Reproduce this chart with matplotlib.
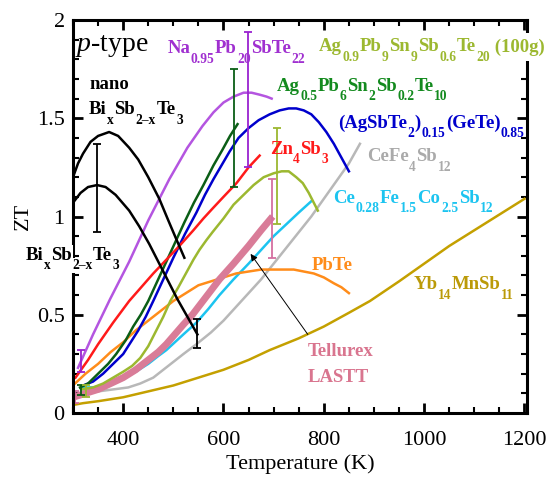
import re

import matplotlib
matplotlib.use("Agg")
import matplotlib.pyplot as plt
from matplotlib import transforms as mtrans
from matplotlib.ticker import MultipleLocator, FuncFormatter

plt.rcParams["font.family"] = ["Liberation Serif", "DejaVu Serif"]
plt.rcParams["mathtext.fontset"] = "custom"
plt.rcParams["mathtext.rm"] = "Liberation Serif"
plt.rcParams["mathtext.it"] = "Liberation Serif:italic"
plt.rcParams["mathtext.bf"] = "Liberation Serif:bold"

# ZT vs temperature curves
nano_T = [300, 310, 320, 335, 350, 372, 390, 412, 430, 450, 472, 490, 505, 522]
nano_ZT = [1.20, 1.27, 1.32, 1.38, 1.41, 1.43, 1.41, 1.35, 1.29, 1.20, 1.09,
           0.98, 0.89, 0.79]

bist_T = [300, 315, 330, 348, 365, 385, 412, 432, 452, 470, 490, 508, 528, 548]
bist_ZT = [1.07, 1.12, 1.15, 1.16, 1.15, 1.11, 1.03, 0.95, 0.86, 0.77, 0.67,
           0.58, 0.49, 0.40]

na_T = [310, 340, 374, 412, 450, 492, 528, 558, 580, 600, 620, 640, 656, 672,
        686, 696]
na_ZT = [0.23, 0.40, 0.58, 0.77, 0.98, 1.19, 1.35, 1.46, 1.53, 1.58, 1.61,
         1.63, 1.63, 1.62, 1.61, 1.60]

agpb_T = [314, 330, 350, 370, 386, 405, 420, 435, 450, 468, 486, 504, 522, 541,
          560, 580, 598, 613, 628]
agpb_ZT = [0.13, 0.15, 0.20, 0.25, 0.30, 0.37, 0.44, 0.50, 0.57, 0.67, 0.77,
           0.87, 0.97, 1.07, 1.16, 1.26, 1.34, 1.41, 1.47]

ge_T = [320, 340, 360, 380, 400, 415, 430, 445, 460, 480, 500, 523, 546, 563,
        580, 596, 612, 630, 650, 670, 692, 712, 730, 745, 760, 775, 790, 805,
        820, 835, 850]
ge_ZT = [0.14, 0.16, 0.20, 0.25, 0.30, 0.36, 0.42, 0.49, 0.57, 0.68, 0.79,
         0.91, 1.02, 1.11, 1.19, 1.26, 1.33, 1.40, 1.45, 1.49, 1.52, 1.54,
         1.55, 1.55, 1.54, 1.52, 1.48, 1.43, 1.37, 1.30, 1.23]

zn_T = [305, 330, 350, 380, 412, 436, 460, 486, 512, 540, 560, 578, 600, 626,
        650, 672]
zn_ZT = [0.18, 0.27, 0.35, 0.46, 0.57, 0.64, 0.71, 0.78, 0.85, 0.93, 0.99,
         1.04, 1.10, 1.17, 1.25, 1.31]

lag_T = [316, 340, 360, 380, 400, 418, 434, 450, 464, 480, 494, 510, 525, 540,
         552, 566, 578, 600, 620, 640, 660, 680, 700, 716, 730, 745, 758, 770,
         780, 788]
lag_ZT = [0.12, 0.13, 0.15, 0.18, 0.21, 0.24, 0.28, 0.34, 0.41, 0.49, 0.57,
          0.64, 0.71, 0.78, 0.83, 0.88, 0.92, 0.99, 1.06, 1.11, 1.16, 1.20,
          1.22, 1.23, 1.23, 1.20, 1.17, 1.12, 1.07, 1.03]

cefe4_T = [318, 350, 380, 410, 434, 460, 480, 500, 520, 546, 575, 600, 625,
           650, 675, 700, 725, 750, 775, 800, 825, 850, 872]
cefe4_ZT = [0.11, 0.11, 0.12, 0.13, 0.15, 0.18, 0.22, 0.26, 0.30, 0.35, 0.41,
            0.47, 0.54, 0.61, 0.68, 0.76, 0.84, 0.92, 1.00, 1.09, 1.18, 1.27,
            1.37]

cefeco_T = [318, 340, 360, 380, 400, 425, 450, 470, 486, 503, 520, 546, 570,
            592, 620, 650, 675, 700, 725, 750, 776]
cefeco_ZT = [0.13, 0.13, 0.14, 0.16, 0.18, 0.21, 0.25, 0.29, 0.32, 0.36, 0.40,
             0.46, 0.53, 0.60, 0.68, 0.76, 0.83, 0.90, 0.96, 1.02, 1.08]

tel_T = [300, 325, 350, 375, 400, 425, 450, 470, 486, 503, 520, 538, 556, 574,
         592, 620, 650, 675, 698]
tel_ZT = [0.08, 0.10, 0.12, 0.15, 0.18, 0.22, 0.27, 0.31, 0.35, 0.40, 0.45,
          0.50, 0.56, 0.62, 0.68, 0.76, 0.85, 0.93, 1.00]

pbte_T = [304, 325, 350, 375, 400, 425, 450, 475, 500, 525, 550, 575, 600,
          625, 650, 675, 700, 720, 740, 760, 780, 800, 820, 835, 850]
pbte_ZT = [0.15, 0.20, 0.25, 0.31, 0.36, 0.42, 0.47, 0.52, 0.57, 0.61, 0.65,
           0.67, 0.69, 0.71, 0.72, 0.73, 0.73, 0.73, 0.73, 0.72, 0.71, 0.69,
           0.66, 0.64, 0.61]

yb_T = [298, 320, 350, 400, 450, 500, 550, 600, 650, 692, 750, 800, 850, 892,
        950, 1000, 1050, 1100, 1150, 1200]
yb_ZT = [0.04, 0.05, 0.06, 0.08, 0.11, 0.14, 0.18, 0.22, 0.27, 0.32, 0.38,
         0.44, 0.51, 0.57, 0.67, 0.76, 0.85, 0.93, 1.01, 1.09]

# error bars: temperature, low, high
eb_T = [348, 548, 648, 316, 620, 316, 706, 326, 696, 303]
eb_lo = [0.92, 0.33, 1.25, 0.21, 1.15, 0.09, 0.96, 0.08, 0.79, 0.05]
eb_hi = [1.37, 0.48, 1.94, 0.32, 1.75, 0.14, 1.45, 0.14, 1.19, 0.11]
eb_colors = ["black", "black", "#9a22d0", "#9a22d0", "#0b5e16", "#0b5e16",
             "#9cb830", "#9cb830", "#d46fa0", "#d46fa0"]

# curve labels: anchor (T, ZT) at start of baseline, text, colour
label_T = [488, 790, 332, 332, 706, 828, 692, 886, 818, 776, 978, 768, 768,
           206]
label_ZT = [1.83, 1.84, 1.65, 1.52, 1.64, 1.45, 1.32, 1.28, 1.07, 0.73, 0.63,
            0.29, 0.16, 0.78]
label_text = [
    "Na_{0.95}Pb_{20}SbTe_{22}",
    "Ag_{0.9}Pb_{9}Sn_{9}Sb_{0.6}Te_{20} (100g)",
    "nano",
    "Bi_{x}Sb_{2\u2013x}Te_{3}",
    "Ag_{0.5}Pb_{6}Sn_{2}Sb_{0.2}Te_{10}",
    "(AgSbTe_{2})_{0.15}(GeTe)_{0.85}",
    "Zn_{4}Sb_{3}",
    "CeFe_{4}Sb_{12}",
    "Ce_{0.28}Fe_{1.5}Co_{2.5}Sb_{12}",
    "PbTe",
    "Yb_{14}MnSb_{11}",
    "Tellurex",
    "LASTT",
    "Bi_{x}Sb_{2\u2013x}Te_{3}",
]
label_colors = ["#a030d0", "#9cb830", "black", "black", "#138a1e", "#0000cc",
                "#ff1a1a", "#aaaaaa", "#1cc4f0", "#ff8c1a", "#bb9a08",
                "#d9758f", "#d9758f", "black"]

LABEL_SIZE = 13.5
SUB_SCALE = 0.72


def draw_formula(ax, x, y, formula, color, size, knockout=False):
    """Write a chemical formula piece by piece with deep subscripts.

    knockout=True puts a white box behind the pieces so the axes frame
    does not show through the text.
    """
    fig = ax.figure
    renderer = fig.canvas.get_renderer()
    em = size * fig.dpi / 72
    dx = 0.0
    for m in re.finditer(r"_\{([^}]*)\}|([^_]+)", formula):
        if m.group(1) is not None:
            s, fs, dy = m.group(1), size * SUB_SCALE, -0.5 * em
        else:
            s, fs, dy = m.group(2), size, 0.0
        tr = mtrans.offset_copy(ax.transData, fig=fig, x=dx, y=dy,
                                units="dots")
        t = ax.text(x, y, s, transform=tr, color=color, fontsize=fs,
                    fontweight="bold", ha="left", va="baseline", zorder=5,
                    clip_on=False)
        if "(100g)" in s:
            t.set_bbox(dict(facecolor="white", edgecolor="none", pad=4))
            t.set_zorder(4.9)
        elif knockout:
            t.set_bbox(dict(facecolor="white", edgecolor="none", pad=1))
            t.set_zorder(4.9)
        dx += t.get_window_extent(renderer).width + 0.5


fig = plt.figure(figsize=(5.51, 4.79), dpi=100)
ax = fig.add_axes([73 / 551, 66 / 479, 454 / 551, 393 / 479])

lw = 1.8
ax.plot(yb_T, yb_ZT, color="#c4a000", lw=lw, zorder=2)
ax.plot(cefe4_T, cefe4_ZT, color="#b8b8b8", lw=lw, zorder=2)
ax.plot(cefeco_T, cefeco_ZT, color="#1cc4f0", lw=lw, zorder=2)
ax.plot(pbte_T, pbte_ZT, color="#ff8c1a", lw=lw, zorder=2)
ax.plot(tel_T, tel_ZT, color="#d97c98", lw=5.0, zorder=2.1,
        solid_capstyle="butt")
ax.plot(lag_T, lag_ZT, color="#9cb830", lw=lw, zorder=2.2)
ax.plot(ge_T, ge_ZT, color="#0000cc", lw=lw, zorder=2.2)
ax.plot(agpb_T, agpb_ZT, color="#0b5e16", lw=lw, zorder=2.2)
ax.plot(zn_T, zn_ZT, color="#ff1a1a", lw=lw, zorder=2.2)
ax.plot(na_T, na_ZT, color="#b455e0", lw=lw, zorder=2.2)
ax.plot(nano_T, nano_ZT, color="black", lw=lw, zorder=2.3)
ax.plot(bist_T, bist_ZT, color="black", lw=lw, zorder=2.3)

for t, lo, hi, c in zip(eb_T, eb_lo, eb_hi, eb_colors):
    ax.errorbar([t], [(lo + hi) / 2], yerr=[(hi - lo) / 2], fmt="none",
                ecolor=c, elinewidth=1.3, capsize=3, capthick=1.3,
                zorder=2.4)

ax.annotate("", xy=(654, 0.81), xytext=(768, 0.40),
            arrowprops=dict(arrowstyle="-|>", color="black", lw=0.7,
                            mutation_scale=10, shrinkA=0, shrinkB=0),
            zorder=3)

ax.set_xlim(300, 1205)
ax.set_ylim(0, 2)
ax.xaxis.set_major_locator(MultipleLocator(200))
ax.xaxis.set_minor_locator(MultipleLocator(50))
ax.yaxis.set_major_locator(MultipleLocator(0.5))
ax.yaxis.set_minor_locator(MultipleLocator(0.1))
ax.yaxis.set_major_formatter(FuncFormatter(lambda v, p: f"{v:g}"))
ax.tick_params(which="both", direction="in", top=True, right=True,
               labelsize=16)
ax.tick_params(which="major", length=7, width=2)
ax.tick_params(which="minor", length=4, width=1.5)
ax.tick_params(axis="x", which="major", pad=13)
ax.tick_params(axis="y", which="major", pad=6)
for sp in ax.spines.values():
    sp.set_linewidth(2.2)

ax.set_xlabel("Temperature (K)", fontsize=16, labelpad=3)
ax.set_ylabel("ZT", fontsize=16, labelpad=3)

ax.text(304, 1.84, r"$\it{p}$-type", fontsize=20, ha="left", va="baseline",
        zorder=5)
xmin = ax.get_xlim()[0]
for x, y, s, c in zip(label_T, label_ZT, label_text, label_colors):
    draw_formula(ax, x, y, s, c, LABEL_SIZE, knockout=x < xmin)

fig.savefig("out.png", dpi=100, facecolor="white")
